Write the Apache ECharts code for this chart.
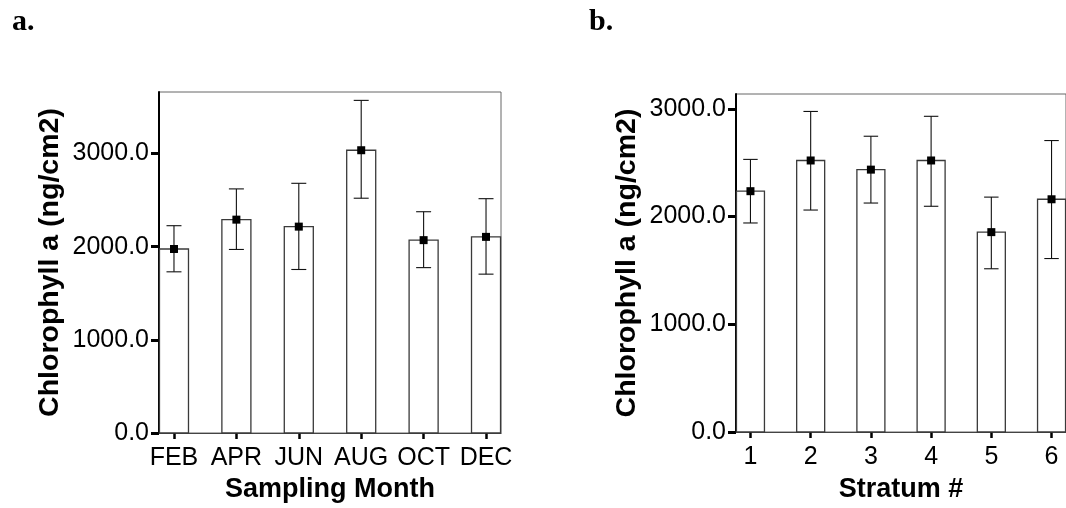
<!DOCTYPE html>
<html>
<head>
<meta charset="utf-8">
<script src="https://cdn.jsdelivr.net/npm/echarts@6/dist/echarts.min.js"></script>
<style>
html,body{margin:0;padding:0;background:#fff;}
#chart{width:1066px;height:508px;}
</style>
</head>
<body>
<div id="chart"></div>
<script>
// ---- data ----
const months = ['FEB', 'APR', 'JUN', 'AUG', 'OCT', 'DEC'];
const monthMean  = [1975, 2290, 2215, 3035, 2070, 2105];
const monthUpper = [2225, 2620, 2680, 3570, 2375, 2515];
const monthLower = [1730, 1970, 1755, 2520, 1775, 1705];

const strata = ['1', '2', '3', '4', '5', '6'];
const strataMean  = [2235, 2520, 2435, 2520, 1855, 2160];
const strataUpper = [2530, 2975, 2745, 2930, 2180, 2705];
const strataLower = [1940, 2060, 2125, 2095, 1515, 1610];

const yTicks = [0, 1000, 2000, 3000];
const panelLabels = ['a.', 'b.'];

// ---- chart ----
const SANS = '"Liberation Sans", Arial, sans-serif';
const SERIF = '"Liberation Serif", "Times New Roman", serif';
const idx = [0, 1, 2, 3, 4, 5];

function barItem(params, api) {
  const x = api.value(0), v = api.value(1);
  const p0 = api.coord([x, 0]);
  const p1 = api.coord([x, v]);
  const w = api.size([0.465, 0])[0];
  return {
    type: 'rect',
    shape: { x: p0[0] - w / 2, y: p1[1], width: w, height: p0[1] - p1[1] },
    style: { fill: '#ffffff', stroke: '#3a3a3a', lineWidth: 1.3 }
  };
}
function errItem(params, api) {
  const x = api.value(0);
  const hi = api.coord([x, api.value(1)]);
  const lo = api.coord([x, api.value(2)]);
  const cw = api.size([0.24, 0])[0] / 2;
  const st = { stroke: '#111', lineWidth: 1.1 };
  return {
    type: 'group',
    children: [
      { type: 'line', shape: { x1: hi[0], y1: hi[1], x2: lo[0], y2: lo[1] }, style: st },
      { type: 'line', shape: { x1: hi[0] - cw, y1: hi[1], x2: hi[0] + cw, y2: hi[1] }, style: st },
      { type: 'line', shape: { x1: lo[0] - cw, y1: lo[1], x2: lo[0] + cw, y2: lo[1] }, style: st }
    ]
  };
}

function xAxis(gi, cats, name, gap) {
  return {
    gridIndex: gi, type: 'value', min: -0.24, max: 5.24,
    name: name, nameLocation: 'middle', nameGap: gap,
    nameTextStyle: { fontFamily: SANS, fontSize: 27, fontWeight: 'bold', color: '#000' },
    axisLine: { show: true, onZero: false, lineStyle: { color: '#444', width: 1.2 } },
    axisTick: { show: true, customValues: idx, length: 6, lineStyle: { color: '#000', width: 2.5 } },
    axisLabel: { customValues: idx, margin: 13, fontFamily: SANS, fontSize: 25, color: '#000',
      formatter: v => cats[Math.round(v)] },
    splitLine: { show: false }
  };
}
function yAxis(gi, max) {
  return {
    gridIndex: gi, type: 'value', min: 0, max: max,
    name: 'Chlorophyll a (ng/cm2)', nameLocation: 'middle', nameGap: 94, nameRotate: 90,
    nameTextStyle: { fontFamily: SANS, fontSize: 28.5, fontWeight: 'bold', color: '#000' },
    axisLine: { show: true, onZero: false, lineStyle: { color: '#000', width: 2 } },
    axisTick: { show: true, customValues: yTicks, length: 8, lineStyle: { color: '#000', width: 3 } },
    axisLabel: { customValues: yTicks, margin: 10, fontFamily: SANS, fontSize: 25, color: '#000',
      formatter: v => v.toFixed(1) },
    splitLine: { show: false }
  };
}
function seriesFor(gi, mean, upper, lower) {
  return [
    { type: 'custom', xAxisIndex: gi, yAxisIndex: gi, renderItem: barItem, z: 2,
      data: mean.map((v, i) => [i, v]) },
    { type: 'custom', xAxisIndex: gi, yAxisIndex: gi, renderItem: errItem, z: 3,
      data: mean.map((v, i) => [i, upper[i], lower[i]]) },
    { type: 'scatter', xAxisIndex: gi, yAxisIndex: gi, symbol: 'rect', symbolSize: 8, z: 4,
      itemStyle: { color: '#000', opacity: 1 }, data: mean.map((v, i) => [i, v]) }
  ];
}

const chart = echarts.init(document.getElementById('chart'), null, { renderer: 'canvas' });
chart.setOption({
  animation: false,
  backgroundColor: '#ffffff',
  title: [
    { text: panelLabels[0], left: 7, top: 2, textStyle: { fontFamily: SERIF, fontSize: 30, fontWeight: 'bold', color: '#000' } },
    { text: panelLabels[1], left: 584, top: 2, textStyle: { fontFamily: SERIF, fontSize: 30, fontWeight: 'bold', color: '#000' } }
  ],
  grid: [
    { left: 159, top: 92, width: 342, height: 342, show: true, borderColor: '#666', borderWidth: 1, backgroundColor: 'transparent' },
    { left: 736, top: 94, width: 342, height: 341, show: true, borderColor: '#666', borderWidth: 1, backgroundColor: 'transparent' }
  ],
  xAxis: [xAxis(0, months, 'Sampling Month', 43), xAxis(1, strata, 'Stratum #', 44)],
  yAxis: [yAxis(0, 3660), yAxis(1, 3137)],
  series: [].concat(
    seriesFor(0, monthMean, monthUpper, monthLower),
    seriesFor(1, strataMean, strataUpper, strataLower)
  )
});
</script>
</body>
</html>
